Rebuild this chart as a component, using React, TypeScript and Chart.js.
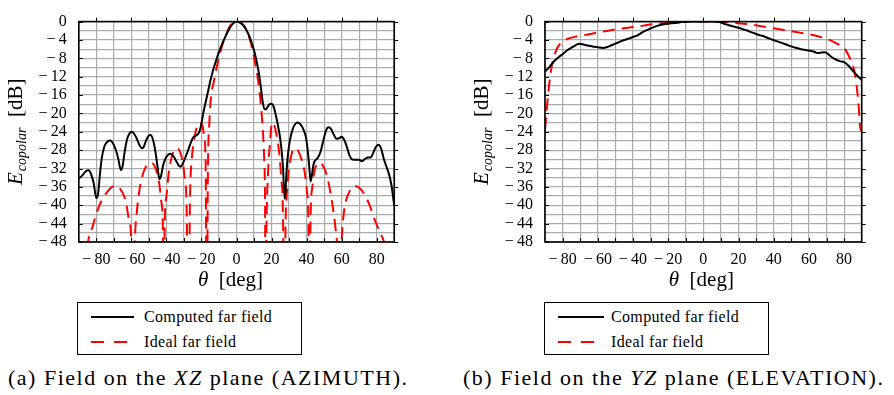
import React, { useEffect, useRef } from 'react';
import { Chart, registerables } from 'chart.js';

Chart.register(...registerables);

// ---------- shared axes ----------
const X_MIN = -90;
const X_MAX = 90;
const X_STEP = 10;
const Y_MIN = -48;
const Y_MAX = 0;
const Y_STEP = 2;
const X_LABEL_VALUES = [-80, -60, -40, -20, 0, 20, 40, 60, 80];
const X_MINOR_TICKS = [-80, -70, -60, -50, -40, -30, -20, -10, 0, 10, 20, 30, 40, 50, 60, 70, 80];
const Y_LABEL_VALUES = [0, -4, -8, -12, -16, -20, -24, -28, -32, -36, -40, -44, -48];

// ---------- (a) XZ plane, AZIMUTH ----------
const azThetaComputed = [
  -90, -88, -86, -84.5, -83, -81.5, -80, -79, -78, -77, -75.5, -73.5, -72, -70.5, -69, -67.5, -66, -65, -64, -62.5,
  -61, -60, -58.5, -57, -55.5, -54, -53, -51.5, -50, -49, -48, -47, -46, -45, -44, -43, -42, -40.5, -39, -37.5,
  -36, -34.5, -33, -32, -31, -29.5, -28, -26.5, -25, -23.5, -22, -21, -20, -19, -18, -17, -16, -15, -14, -13,
  -12, -11, -10, -9, -8, -7, -6, -5, -4, -3, -2, -1, 0, 1, 2, 3, 4, 5, 6, 7,
  8, 9, 10, 11, 12, 13, 14, 15, 16, 17, 18, 19.5, 20.5, 21.5, 22.5, 23.5, 24.5, 25.5, 26.5, 27.5,
  28, 28.5, 29.5, 30.5, 32, 33.5, 35, 36.5, 38, 39.5, 40.5, 41.5, 42.3, 43, 44, 45, 46.5, 48, 49.5, 51,
  52.5, 54, 55.5, 57, 58.5, 60, 61.5, 63, 64.5, 66, 68, 70, 71.5, 73, 75, 76.5, 78, 79.5, 81, 82.5,
  84, 85.5, 87, 88.5, 90,
];
const azComputed = [
  -34.2, -33.5, -32.6, -32.4, -33.2, -35.2, -38.4, -37.5, -33.5, -30.0, -27.3, -26.1, -25.9, -26.5, -27.8, -29.8, -32.3, -31.5, -28.8, -25.7,
  -24.3, -24.0, -24.4, -25.4, -26.8, -27.6, -27.3, -25.8, -24.8, -24.7, -25.3, -26.8, -29.0, -31.8, -34.3, -33.5, -31.5, -29.8, -29.0, -28.8,
  -29.3, -30.3, -31.3, -31.6, -31.2, -29.9, -28.4, -26.8, -25.4, -24.9, -24.5, -23.8, -22.2, -20.0, -18.2, -16.5, -14.8, -13.0, -11.5, -10.1,
  -8.9, -7.7, -6.6, -5.6, -4.7, -3.8, -3.0, -2.2, -1.5, -0.9, -0.4, -0.1, 0, -0.05, -0.2, -0.5, -0.9, -1.4, -2.1, -2.9,
  -3.9, -5.0, -6.3, -7.8, -9.6, -11.8, -14.6, -17.6, -19.1, -19.0, -18.4, -17.9, -18.0, -18.9, -20.5, -22.3, -24.4, -27.2, -31.5, -38.6,
  -37.0, -33.0, -28.5, -25.8, -23.5, -22.3, -22.0, -22.4, -23.3, -25.0, -27.5, -31.5, -34.8, -33.5, -31.0, -30.2, -29.6, -28.3, -26.0, -23.8,
  -23.0, -23.4, -24.6, -25.5, -25.4, -25.1, -25.8, -27.3, -29.2, -30.0, -30.1, -30.1, -30.4, -30.0, -29.6, -29.6, -28.6, -27.3, -26.8, -27.6,
  -29.8, -31.5, -33.2, -35.8, -40.0,
];
const azThetaIdeal = [
  -90, -86, -84.5, -82, -80, -77, -74, -71, -69, -67, -65, -63, -61.5, -60, -59, -58, -57, -55.5, -54, -52,
  -50, -48.5, -47, -45.5, -44, -43, -42, -41.5, -41, -40, -38.5, -37, -35, -33.5, -32, -30.5, -29.5, -28.5, -27.5, -26.5,
  -25.5, -24, -22.5, -21, -19.5, -18.5, -17.6, -17, -16.3, -15.5, -15, -14, -13, -12, -10, -8, -6, -4, -2, 0,
  2, 4, 6, 8, 10, 11, 12, 13, 14, 15, 15.8, 16.3, 16.6, 17, 18, 19, 20.3, 21.5, 23, 24.5,
  25.5, 26.5, 27.2, 28, 28.8, 30, 31.5, 33, 34.5, 36, 37.5, 39, 40.2, 41, 41.5, 42.3, 43.3, 44.5, 46, 47.5,
  49, 50.5, 52, 53.5, 55, 56.5, 57.5, 58.5, 60, 61, 62.5, 64.5, 67.5, 70, 73, 76, 79, 82, 84, 86,
  90,
];
const azIdeal = [
  -70, -52, -47.5, -44.5, -41.8, -39.0, -37.2, -36.0, -35.8, -36.2, -37.3, -39.5, -43, -48, -70, -48, -42, -37, -34, -31.8,
  -30.9, -30.8, -31.3, -32.8, -35.5, -39, -45, -70, -45, -38, -32.5, -29.5, -27.8, -27.6, -28.6, -31, -34.5, -40, -70, -38,
  -30, -25.3, -22.8, -22.0, -22.6, -25, -31, -70, -32, -22, -18.5, -15.0, -13.2, -11.2, -7.8, -5.0, -2.9, -1.1, -0.25, 0,
  -0.2, -0.7, -2.2, -4.4, -7.8, -9.8, -12.0, -14.8, -18.5, -23.5, -30, -40, -70, -48, -33, -27, -22, -22.5, -25, -29,
  -34, -42, -70, -44, -37, -32, -28.8, -27.6, -27.8, -28.8, -30.5, -33, -37, -43, -70, -42, -36, -32.5, -31, -30.7,
  -31.2, -32.3, -34.2, -37, -40.5, -45, -50, -70, -48, -42.5, -39, -37, -35.8, -36.2, -37.6, -40, -43.3, -46, -47.8, -52,
  -70,
];

// ---------- (b) YZ plane, ELEVATION ----------
const elThetaComputed = [
  -90, -87.5, -85, -82.5, -80, -77.5, -75, -72.5, -70.5, -68, -66, -63, -60, -57, -55, -52.5, -50, -47.5, -45, -42.5,
  -40, -37.5, -35, -32.5, -30, -27.5, -25, -22.5, -20, -17.5, -15, -12.5, -10, -7.5, -5, -2.5, 0, 2.5, 5, 7.5,
  10, 12.5, 15, 17.5, 20, 22.5, 25, 27.5, 30, 32.5, 35, 37.5, 40, 42.5, 45, 47.5, 50, 52.5, 55, 57.5,
  60, 62.5, 64, 65.5, 67, 69, 71, 72.5, 75, 77.5, 80, 82.5, 85, 87.5, 90,
];
const elComputed = [
  -10.9, -9.9, -8.7, -7.8, -7.1, -6.3, -5.7, -5.1, -4.8, -5.0, -5.2, -5.4, -5.6, -5.75, -5.6, -5.2, -4.8, -4.4, -4.0, -3.7,
  -3.35, -3.0, -2.4, -1.9, -1.5, -1.1, -0.8, -0.6, -0.45, -0.35, -0.25, -0.1, -0.05, 0, 0, 0, 0, 0, 0, -0.05,
  -0.2, -0.55, -0.85, -1.1, -1.35, -1.65, -1.95, -2.35, -2.7, -3.0, -3.3, -3.7, -4.05, -4.35, -4.7, -5.05, -5.4, -5.7, -5.95, -6.15,
  -6.3, -6.5, -6.75, -6.85, -6.75, -6.65, -7.1, -7.6, -8.2, -8.6, -8.85, -9.6, -10.7, -11.8, -12.7,
];
const elThetaIdeal = [
  -90, -89.3, -88.7, -88, -87.2, -86.3, -85.3, -84, -82.5, -80.5, -78.5, -76, -73, -69, -64, -60, -56, -52, -48, -44,
  -40, -36, -32, -28, -24, -20, -16, -12, -8, -4, 0, 4, 8, 12, 16, 20, 24, 28, 32, 36,
  40, 44, 48, 52, 56, 60, 64, 68, 71, 74, 77, 79.8, 81.5, 82.7, 84, 85.5, 86.5, 87.4, 88.3, 89,
  90,
];
const elIdeal = [
  -23.5, -20.5, -17.8, -15, -12.3, -10, -8.2, -6.6, -5.4, -4.5, -4.0, -3.6, -3.3, -3.0, -2.7, -2.4, -2.1, -1.85, -1.6, -1.4,
  -1.2, -1.0, -0.75, -0.55, -0.4, -0.25, -0.12, -0.05, 0, 0, 0, 0, -0.02, -0.1, -0.2, -0.35, -0.5, -0.7, -0.95, -1.2,
  -1.45, -1.7, -1.95, -2.2, -2.5, -2.75, -3.1, -3.5, -3.9, -4.4, -5.0, -5.7, -6.6, -7.5, -8.7, -10.2, -12.2, -15, -18.5, -22.7,
  -24,
];

const SERIF = '"Liberation Serif", "Times New Roman", serif';
const GRID = '#ababab';

function fmt(v: number): string {
  return v < 0 ? '\u2212\u2009' + Math.abs(v) : String(v);
}

const framePlugin = {
  id: 'frame',
  afterDatasetsDraw(chart: any, _args: any, opts: any) {
    const { ctx, chartArea: a, scales } = chart;
    const xs = scales.x;
    const ys = scales.y;
    ctx.save();
    ctx.strokeStyle = '#000';
    ctx.lineWidth = 1;
    ctx.beginPath();
    X_MINOR_TICKS.forEach((v) => {
      const x = Math.round(xs.getPixelForValue(v)) + 0.5;
      ctx.moveTo(x, a.bottom);
      ctx.lineTo(x, a.bottom - 4);
    });
    X_LABEL_VALUES.forEach((v) => {
      const x = Math.round(xs.getPixelForValue(v)) + 0.5;
      ctx.moveTo(x, a.top);
      ctx.lineTo(x, a.top - 4);
    });
    Y_LABEL_VALUES.forEach((v) => {
      const y = Math.round(ys.getPixelForValue(v)) + 0.5;
      ctx.moveTo(a.left, y);
      ctx.lineTo(a.left + 4, y);
      ctx.moveTo(a.right, y);
      ctx.lineTo(a.right + 4, y);
    });
    ctx.stroke();
    ctx.lineWidth = 1.6;
    ctx.strokeRect(a.left, a.top, a.right - a.left, a.bottom - a.top);

    // x title: θ [deg]
    ctx.fillStyle = '#000';
    ctx.textBaseline = 'alphabetic';
    ctx.textAlign = 'left';
    const big = `21px ${SERIF}`;
    const bigIt = `italic 21px ${SERIF}`;
    const small = `italic 14px ${SERIF}`;
    ctx.font = bigIt;
    const w1 = ctx.measureText('θ').width;
    ctx.font = big;
    const w2 = ctx.measureText('  [deg]').width;
    const cx = (a.left + a.right) / 2 + (opts.xTitleShift || 0);
    const x0 = cx - (w1 + w2) / 2;
    ctx.font = bigIt;
    ctx.fillText('θ', x0, opts.xTitleY);
    ctx.font = big;
    ctx.fillText('  [deg]', x0 + w1, opts.xTitleY);

    // y title: E_copolar [dB]
    ctx.translate(a.left - opts.yTitleGap, (a.top + a.bottom) / 2);
    ctx.rotate(-Math.PI / 2);
    ctx.font = bigIt;
    const e = ctx.measureText('E').width;
    ctx.font = small;
    const sub = ctx.measureText('copolar').width;
    ctx.font = big;
    const db = ctx.measureText('  [dB]').width;
    let p = -(e + 1 + sub + db) / 2;
    ctx.font = bigIt;
    ctx.fillText('E', p, 0);
    p += e + 1;
    ctx.font = small;
    ctx.fillText('copolar', p, 4);
    p += sub;
    ctx.font = big;
    ctx.fillText('  [dB]', p, 0);
    ctx.restore();
  },
};

function makeConfig(
  thetaC: number[], valC: number[], thetaI: number[], valI: number[],
  yWidth: number, padRight: number, xTitleShift: number,
): any {
  return {
    type: 'line',
    data: {
      datasets: [
        {
          label: 'Computed far field',
          data: thetaC.map((t, i) => ({ x: t, y: valC[i] })),
          borderColor: '#000',
          borderWidth: 2,
          pointRadius: 0,
          cubicInterpolationMode: 'monotone',
          clip: 0,
        },
        {
          label: 'Ideal far field',
          data: thetaI.map((t, i) => ({ x: t, y: valI[i] })),
          borderColor: '#ff0000',
          borderWidth: 2,
          borderDash: [12, 7],
          pointRadius: 0,
          cubicInterpolationMode: 'monotone',
          clip: 0,
        },
      ],
    },
    options: {
      responsive: false,
      animation: false,
      devicePixelRatio: 1,
      layout: { padding: { top: 11, right: padRight, left: 0, bottom: 0 } },
      plugins: {
        legend: { display: false },
        tooltip: { enabled: false },
        frame: { xTitleY: 286, yTitleGap: 57, xTitleShift },
      },
      scales: {
        x: {
          type: 'linear',
          min: X_MIN,
          max: X_MAX,
          border: { display: false },
          grid: { color: GRID, lineWidth: 1.2, drawTicks: false },
          ticks: {
            stepSize: X_STEP,
            autoSkip: false,
            maxRotation: 0,
            padding: 8,
            color: '#000',
            font: { family: SERIF, size: 16 },
            callback: (v: number) => (X_LABEL_VALUES.includes(v) ? fmt(v) : ''),
          },
          afterFit: (s: any) => { s.height = 58; },
        },
        y: {
          type: 'linear',
          min: Y_MIN,
          max: Y_MAX,
          border: { display: false },
          grid: { color: GRID, lineWidth: 1.2, drawTicks: false },
          ticks: {
            stepSize: Y_STEP,
            autoSkip: false,
            padding: 12,
            color: '#000',
            font: { family: SERIF, size: 16 },
            callback: (v: number) => (Y_LABEL_VALUES.includes(v) ? fmt(v) : ''),
          },
          afterFit: (s: any) => { s.width = yWidth; },
        },
      },
    },
    plugins: [framePlugin],
  };
}

function Legend({ left, lineLen }: { left: number; lineLen: number }) {
  const rowText: React.CSSProperties = {
    position: 'absolute', left: 66, fontFamily: SERIF, fontSize: 16, letterSpacing: 0.35,
    lineHeight: '18px', whiteSpace: 'nowrap', color: '#000',
  };
  return (
    <div style={{
      position: 'absolute', left, top: 302, width: 225, height: 53, boxSizing: 'border-box',
      border: '1.5px solid #000', background: '#fff',
    }}>
      <svg style={{ position: 'absolute', left: 0, top: 0 }} width={80} height={50}>
        <line x1={13} y1={14} x2={13 + lineLen} y2={14} stroke="#000" strokeWidth={2} />
        <line x1={13} y1={39} x2={13 + lineLen} y2={39} stroke="#ff0000" strokeWidth={2} strokeDasharray="13 10" />
      </svg>
      <div style={{ ...rowText, top: 5 }}>Computed far field</div>
      <div style={{ ...rowText, top: 30 }}>Ideal far field</div>
    </div>
  );
}

function Caption({ left, label, plane, name }: { left: number; label: string; plane: string; name: string }) {
  return (
    <div style={{
      position: 'absolute', left, top: 365, fontFamily: SERIF, fontSize: 22, letterSpacing: 1.5,
      lineHeight: '26px', whiteSpace: 'nowrap', color: '#000',
    }}>
      ({label}) Field on the <i>{plane}</i> plane ({name}).
    </div>
  );
}

export default function App() {
  const leftRef = useRef<HTMLCanvasElement>(null);
  const rightRef = useRef<HTMLCanvasElement>(null);

  useEffect(() => {
    document.body.style.margin = '0';
    const c1 = new Chart(leftRef.current as HTMLCanvasElement,
      makeConfig(azThetaComputed, azComputed, azThetaIdeal, azIdeal, 78.8, 25.8, -6));
    const c2 = new Chart(rightRef.current as HTMLCanvasElement,
      makeConfig(elThetaComputed, elComputed, elThetaIdeal, elIdeal, 105, 32.3, -2));
    return () => { c1.destroy(); c2.destroy(); };
  }, []);

  return (
    <div style={{ position: 'relative', width: 894, height: 395, background: '#fff', overflow: 'hidden' }}>
      <canvas ref={leftRef} width={420} height={300} style={{ position: 'absolute', left: 0, top: 0 }} />
      <canvas ref={rightRef} width={454} height={300} style={{ position: 'absolute', left: 440, top: 0 }} />
      <Legend left={77} lineLen={43} />
      <Legend left={544} lineLen={46} />
      <Caption left={8} label="a" plane="XZ" name="AZIMUTH" />
      <Caption left={463} label="b" plane="YZ" name="ELEVATION" />
    </div>
  );
}
